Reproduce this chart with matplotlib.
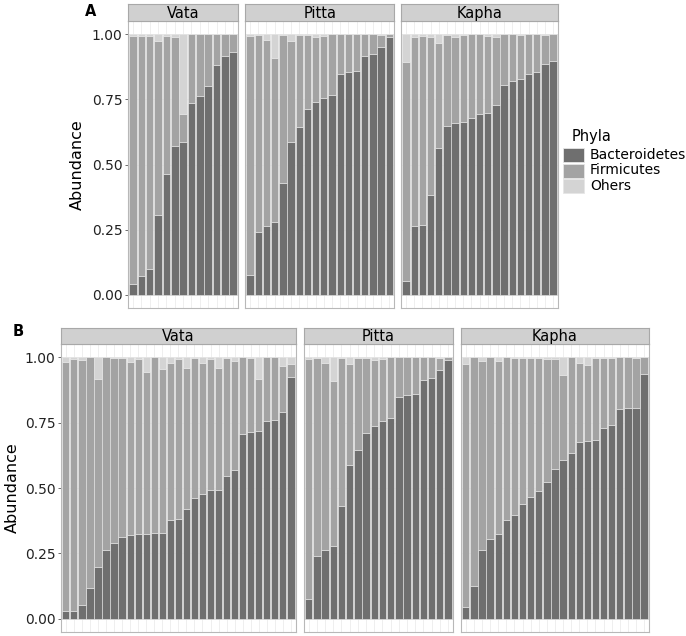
import numpy as np
import matplotlib
matplotlib.use("Agg")
import matplotlib.pyplot as plt
from matplotlib.patches import Rectangle

W, H = 686, 636

PHYLA = ["Bacteroidetes", "Firmicutes", "Ohers"]
COLORS = ["#6f6f6f", "#a3a3a3", "#d4d4d4"]
FACETS = ["Vata", "Pitta", "Kapha"]
Y_TICKS = [0.0, 0.25, 0.50, 0.75, 1.0]
Y_LABELS = ["0.00", "0.25", "0.50", "0.75", "1.00"]

# panel A, one bar per sample (fractions); Others = remainder to 1
a_vata_bact = [0.041, 0.074, 0.098, 0.306, 0.464, 0.571, 0.586, 0.734, 0.761, 0.800, 0.881, 0.916, 0.932]
a_vata_firm = [0.951, 0.918, 0.894, 0.667, 0.528, 0.419, 0.109, 0.266, 0.239, 0.200, 0.119, 0.084, 0.068]

pitta_bact = [0.075, 0.240, 0.265, 0.278, 0.430, 0.587, 0.644, 0.711, 0.738, 0.754, 0.767, 0.846,
              0.855, 0.858, 0.914, 0.922, 0.949, 0.990]
pitta_firm = [0.917, 0.756, 0.712, 0.632, 0.566, 0.387, 0.352, 0.285, 0.249, 0.238, 0.233, 0.154,
              0.145, 0.142, 0.086, 0.078, 0.049, 0.010]

a_kapha_bact = [0.054, 0.264, 0.267, 0.383, 0.564, 0.647, 0.660, 0.664, 0.678, 0.693, 0.696, 0.728,
                0.803, 0.820, 0.826, 0.848, 0.854, 0.885, 0.895]
a_kapha_firm = [0.840, 0.726, 0.727, 0.604, 0.400, 0.349, 0.330, 0.332, 0.322, 0.307, 0.298, 0.259,
                0.197, 0.180, 0.170, 0.152, 0.146, 0.111, 0.105]

# panel B
b_vata_bact = [0.032, 0.032, 0.054, 0.117, 0.198, 0.265, 0.291, 0.311, 0.319, 0.325, 0.325, 0.327,
               0.328, 0.376, 0.381, 0.420, 0.462, 0.478, 0.491, 0.494, 0.547, 0.568, 0.707, 0.714,
               0.716, 0.755, 0.759, 0.791, 0.925]
b_vata_firm = [0.949, 0.962, 0.935, 0.883, 0.719, 0.735, 0.706, 0.684, 0.663, 0.666, 0.618, 0.673,
               0.625, 0.600, 0.613, 0.539, 0.535, 0.498, 0.500, 0.465, 0.450, 0.417, 0.293, 0.283,
               0.199, 0.245, 0.241, 0.175, 0.049]

b_kapha_bact = [0.047, 0.124, 0.264, 0.306, 0.324, 0.376, 0.395, 0.439, 0.466, 0.487, 0.522, 0.573,
                0.608, 0.634, 0.675, 0.681, 0.685, 0.730, 0.742, 0.802, 0.804, 0.806, 0.936]
b_kapha_firm = [0.927, 0.876, 0.721, 0.694, 0.661, 0.624, 0.602, 0.558, 0.531, 0.510, 0.469, 0.418,
                0.323, 0.366, 0.303, 0.288, 0.312, 0.267, 0.255, 0.198, 0.196, 0.189, 0.064]

panel_a = [(a_vata_bact, a_vata_firm), (pitta_bact, pitta_firm), (a_kapha_bact, a_kapha_firm)]
panel_b = [(b_vata_bact, b_vata_firm), (pitta_bact, pitta_firm), (b_kapha_bact, b_kapha_firm)]

plt.rcParams["font.family"] = ["DejaVu Sans"]
fig = plt.figure(figsize=(W / 100, H / 100), dpi=100)


def px_rect(l, t, r, b):
    return [l / W, 1 - b / H, (r - l) / W, (b - t) / H]


def draw_panel(data, left, right, top, bottom, gap, strip_h, ylabel_x, show_labels=True):
    units = [len(d[0]) + 1.2 for d in data]
    avail = right - left - gap * (len(data) - 1)
    unit = avail / sum(units)
    x0 = left
    axes = []
    for i, (bact, firm) in enumerate(data):
        w = units[i] * unit
        ax = fig.add_axes(px_rect(x0, top, x0 + w, bottom))
        bact = np.array(bact)
        firm = np.array(firm)
        other = np.clip(1 - bact - firm, 0, None)
        x = np.arange(len(bact))
        ax.set_axisbelow(True)
        ax.grid(True, color="#ececec", lw=0.6)
        for vals, base, c in [(bact, 0, COLORS[0]), (firm, bact, COLORS[1]), (other, bact + firm, COLORS[2])]:
            ax.bar(x, vals, bottom=base, width=0.9, color=c, edgecolor="#e6e6e6", linewidth=0.4)
        ax.set_xlim(-0.6, len(bact) - 0.4)
        ax.set_ylim(-0.05, 1.05)
        ax.set_xticks(x)
        ax.tick_params(axis="x", length=0, labelbottom=False)
        ax.set_yticks(Y_TICKS)
        if i == 0:
            ax.set_yticklabels(Y_LABELS, fontsize=10, color="#222222")
            ax.tick_params(axis="y", length=2.5, width=0.6, color="#555555", pad=1.5)
        else:
            ax.tick_params(axis="y", length=0, labelleft=False)
        for s in ax.spines.values():
            s.set_color("#b8b8b8")
            s.set_linewidth(0.8)
        # facet strip
        sax = fig.add_axes(px_rect(x0, top - strip_h, x0 + w, top))
        sax.set_xticks([])
        sax.set_yticks([])
        sax.set_facecolor("#d0d0d0")
        for s in sax.spines.values():
            s.set_color("#a8a8a8")
            s.set_linewidth(0.8)
        sax.text(0.5, 0.45, FACETS[i], ha="center", va="center", fontsize=10.5, transform=sax.transAxes)
        axes.append(ax)
        x0 += w + gap
    fig.text(ylabel_x / W, 1 - ((top + bottom) / 2) / H, "Abundance", rotation=90,
             ha="center", va="center", fontsize=11.5)
    return axes


draw_panel(panel_a, 128, 558, 21, 308, 7, 17, 77)
draw_panel(panel_b, 61, 649, 344, 632, 8, 16, 12)

fig.text(91 / W, 1 - 12 / H, "A", fontsize=10.5, fontweight="bold", ha="center", va="center")
fig.text(18 / W, 1 - 332 / H, "B", fontsize=10.5, fontweight="bold", ha="center", va="center")

# legend, drawn in figure pixels
fig.text(572 / W, 1 - 137 / H, "Phyla", fontsize=10.5, ha="left", va="center")
for k, (name, c) in enumerate(zip(PHYLA, COLORS)):
    ytop = 148 + k * 15.5
    fig.patches.append(Rectangle((563 / W, 1 - (ytop + 14) / H), 21 / W, 14 / H,
                                 transform=fig.transFigure, facecolor=c, edgecolor="#e6e6e6", lw=0.6))
    fig.text(590 / W, 1 - (ytop + 7) / H, name, fontsize=10, ha="left", va="center")

fig.savefig("out.png", dpi=100)
